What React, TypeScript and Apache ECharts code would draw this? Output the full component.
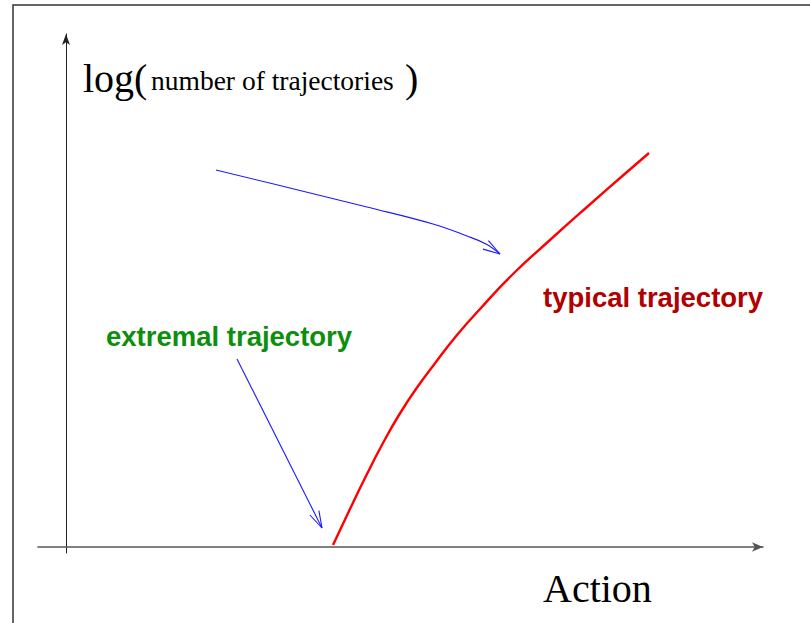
import React, { useEffect, useRef } from "react";
import * as echarts from "echarts";

// Axis domain (Action on x, log(number of trajectories) on y), arbitrary units
const xRange = [-28, 697];
const yRange = [-6, 513];

// Typical trajectory (red curve)
const typicalX = [267, 284, 301, 317, 333, 350, 370, 391, 414, 447, 484, 521, 561, 583];
const typicalY = [2, 38, 73, 104, 132, 158, 185, 212, 238, 273, 307, 340, 375, 394];

// Upper pointer arrow (blue, curved) towards the typical trajectory
const upperArrowX = [150, 234, 301, 367, 401, 420, 434];
const upperArrowY = [377, 356.5, 340, 323, 311, 303, 293];
const upperHeadX = [422.4, 434, 417];
const upperHeadY = [306.3, 293, 297.9];

// Lower pointer arrow (blue, straight) towards the extremal trajectory
const lowerArrowX = [171, 256];
const lowerArrowY = [188, 19];
const lowerHeadX = [243.9, 256, 252.9];
const lowerHeadY = [32, 19, 36.4];

const zip = (xs: number[], ys: number[]) => xs.map((x, i) => [x, ys[i]]);

export default function App() {
  const ref = useRef<HTMLDivElement>(null);
  useEffect(() => {
    document.body.style.margin = "0";
    if (!ref.current) return;
    const chart = echarts.init(ref.current, undefined, { renderer: "svg" });
    const blue = "#1a1aff";
    chart.setOption({
      animation: false,
      backgroundColor: "#ffffff",
      grid: { left: 38, right: 47, top: 34, bottom: 70 },
      xAxis: {
        type: "value",
        min: xRange[0],
        max: xRange[1],
        axisLine: {
          onZero: true,
          symbol: ["none", "arrow"],
          symbolSize: [7, 11],
          lineStyle: { color: "#555555", width: 1.6 },
        },
        axisTick: { show: false },
        axisLabel: { show: false },
        splitLine: { show: false },
      },
      yAxis: {
        type: "value",
        min: yRange[0],
        max: yRange[1],
        axisLine: {
          show: true,
          onZero: true,
          symbol: ["none", "arrow"],
          symbolSize: [6, 11],
          lineStyle: { color: "#222222", width: 1 },
        },
        axisTick: { show: false },
        axisLabel: { show: false },
        splitLine: { show: false },
      },
      series: [
        {
          type: "line",
          data: zip(typicalX, typicalY),
          smooth: 0.5,
          symbol: "none",
          lineStyle: { color: "#ff0000", width: 2.4 },
          silent: true,
        },
        {
          type: "line",
          data: zip(upperArrowX, upperArrowY),
          smooth: 0.4,
          symbol: "none",
          lineStyle: { color: blue, width: 1.1 },
          silent: true,
        },
        {
          type: "line",
          data: zip(upperHeadX, upperHeadY),
          symbol: "none",
          lineStyle: { color: blue, width: 1.1 },
          silent: true,
        },
        {
          type: "line",
          data: zip(lowerArrowX, lowerArrowY),
          symbol: "none",
          lineStyle: { color: blue, width: 1.1 },
          silent: true,
        },
        {
          type: "line",
          data: zip(lowerHeadX, lowerHeadY),
          symbol: "none",
          lineStyle: { color: blue, width: 1.1 },
          silent: true,
        },
      ],
      graphic: [
        {
          type: "rect",
          shape: { x: 13, y: 5, width: 830, height: 650 },
          style: { fill: "none", stroke: "#333333", lineWidth: 1.5 },
          silent: true,
        },
        {
          type: "text",
          x: 83,
          y: 78,
          style: {
            text: "log(",
            font: '40px "Liberation Serif"',
            fill: "#000",
            verticalAlign: "middle",
          },
        },
        {
          type: "text",
          x: 151,
          y: 80,
          style: {
            text: "number of trajectories",
            font: '27.5px "Liberation Serif"',
            fill: "#000",
            verticalAlign: "middle",
          },
        },
        {
          type: "text",
          x: 405,
          y: 78,
          style: {
            text: ")",
            font: '40px "Liberation Serif"',
            fill: "#000",
            verticalAlign: "middle",
          },
        },
        {
          type: "text",
          x: 543,
          y: 588,
          style: {
            text: "Action",
            font: '40px "Liberation Serif"',
            fill: "#000",
            verticalAlign: "middle",
          },
        },
        {
          type: "text",
          x: 106,
          y: 336,
          style: {
            text: "extremal trajectory",
            font: 'bold 27.5px "Liberation Sans"',
            fill: "#0d8f0d",
            verticalAlign: "middle",
          },
        },
        {
          type: "text",
          x: 543,
          y: 297,
          style: {
            text: "typical trajectory",
            font: 'bold 27.5px "Liberation Sans"',
            fill: "#b00000",
            verticalAlign: "middle",
          },
        },
      ],
    });
    return () => chart.dispose();
  }, []);
  return <div ref={ref} style={{ width: 810, height: 623 }} />;
}
